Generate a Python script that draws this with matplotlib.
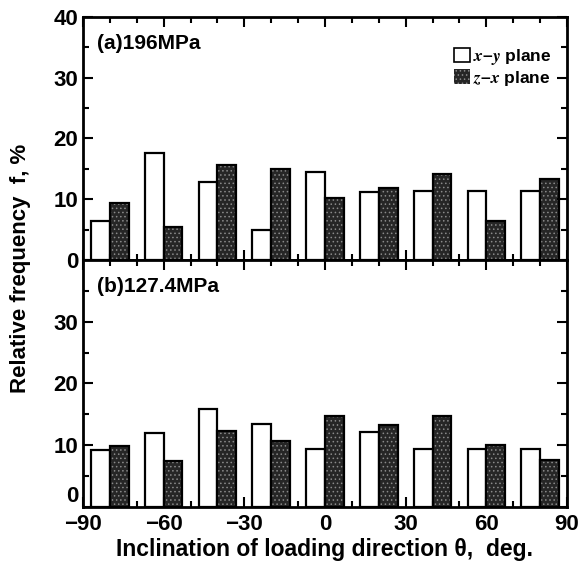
import matplotlib
matplotlib.use("Agg")
import matplotlib.pyplot as plt
import numpy as np
from matplotlib.ticker import MultipleLocator
from matplotlib.patches import Patch

plt.rcParams["font.family"] = ["Liberation Sans", "DejaVu Sans"]
plt.rcParams["font.weight"] = "bold"
plt.rcParams["mathtext.fontset"] = "stix"
plt.rcParams["hatch.linewidth"] = 0.6

# bin centres of inclination angle (deg)
bin_centers = [-80, -60, -40, -20, 0, 20, 40, 60, 80]

# (a) 196 MPa
xy_196 = [6.4, 17.6, 12.9, 4.9, 14.5, 11.2, 11.3, 11.3, 11.3]
zx_196 = [9.4, 5.4, 15.7, 14.9, 10.2, 11.8, 14.2, 6.4, 13.4]

# (b) 127.4 MPa
xy_127 = [9.2, 12.0, 15.9, 13.4, 9.4, 12.1, 9.4, 9.4, 9.4]
zx_127 = [9.8, 7.4, 12.3, 10.7, 14.8, 13.3, 14.8, 10.0, 7.6]

xticks = [-90, -60, -30, 0, 30, 60, 90]
xticklabels = ["\u221290", "\u221260", "\u221230", "0", "30", "60", "90"]

bw = 7.0
dark = "#262626"
speckle = "#8a8a8a"

fig = plt.figure(figsize=(5.84, 5.72), dpi=100)
ax1 = fig.add_axes([0.142, 0.5455, 0.829, 0.4248])
ax2 = fig.add_axes([0.142, 0.1136, 0.829, 0.4319])


def draw_panel(ax, xy, zx, label):
    x = np.array(bin_centers)
    ax.bar(x - bw / 2, xy, width=bw, color="white", edgecolor="black", linewidth=1.6)
    ax.bar(x + bw / 2, zx, width=bw, color=dark, edgecolor=speckle, linewidth=0, hatch="....")
    ax.bar(x + bw / 2, zx, width=bw, color="none", edgecolor="black", linewidth=1.6)
    ax.set_xlim(-90, 90)
    ax.set_ylim(0, 40)
    ax.xaxis.set_major_locator(MultipleLocator(30))
    ax.xaxis.set_minor_locator(MultipleLocator(10))
    ax.yaxis.set_major_locator(MultipleLocator(10))
    ax.yaxis.set_minor_locator(MultipleLocator(5))
    ax.tick_params(which="both", direction="in", top=True, right=True, width=1.5)
    ax.tick_params(which="major", length=7, labelsize=16)
    ax.tick_params(which="minor", length=4)
    for s in ax.spines.values():
        s.set_linewidth(2)
    ax.text(0.03, 0.93, label, transform=ax.transAxes, fontsize=15,
            fontweight="bold", va="top", ha="left")


draw_panel(ax1, xy_196, zx_196, "(a)196MPa")
draw_panel(ax2, xy_127, zx_127, "(b)127.4MPa")

ax1.set_xticks(xticks)
ax1.tick_params(axis="x", labelbottom=False)
ax1.set_yticks([0, 10, 20, 30, 40])
ax2.set_yticks([0, 10, 20, 30])
ax2.set_xticks(xticks)
ax2.set_xticklabels(xticklabels)
ax2.tick_params(axis="x", which="major", pad=5)
for t in ax1.get_yticklabels() + ax2.get_yticklabels() + ax2.get_xticklabels():
    t.set_fontweight("bold")
# bottom-panel zero sits just above the -90 label, as in the original
ax2.get_yticklabels()[0].set_va("bottom")

handles = [
    Patch(facecolor="white", edgecolor="black", linewidth=1.2),
    Patch(facecolor=dark, edgecolor=speckle, hatch="....", linewidth=0),
]
ax1.legend(handles, ["$x$\u2013$y$ plane", "$z$\u2013$x$ plane"], loc="upper right",
           bbox_to_anchor=(0.99, 0.92), frameon=False, fontsize=12.5,
           handlelength=0.9, handleheight=0.9, handletextpad=0.2,
           labelspacing=0.1, borderaxespad=0.2)

fig.text(0.035, 0.53, "Relative frequency  f, %", rotation=90, fontsize=16,
         fontweight="bold", ha="center", va="center")
fig.text(0.556, 0.02, "Inclination of loading direction \u03b8,  deg.", fontsize=16.5,
         fontweight="bold", ha="center", va="bottom")

fig.savefig("out.png", dpi=100)
